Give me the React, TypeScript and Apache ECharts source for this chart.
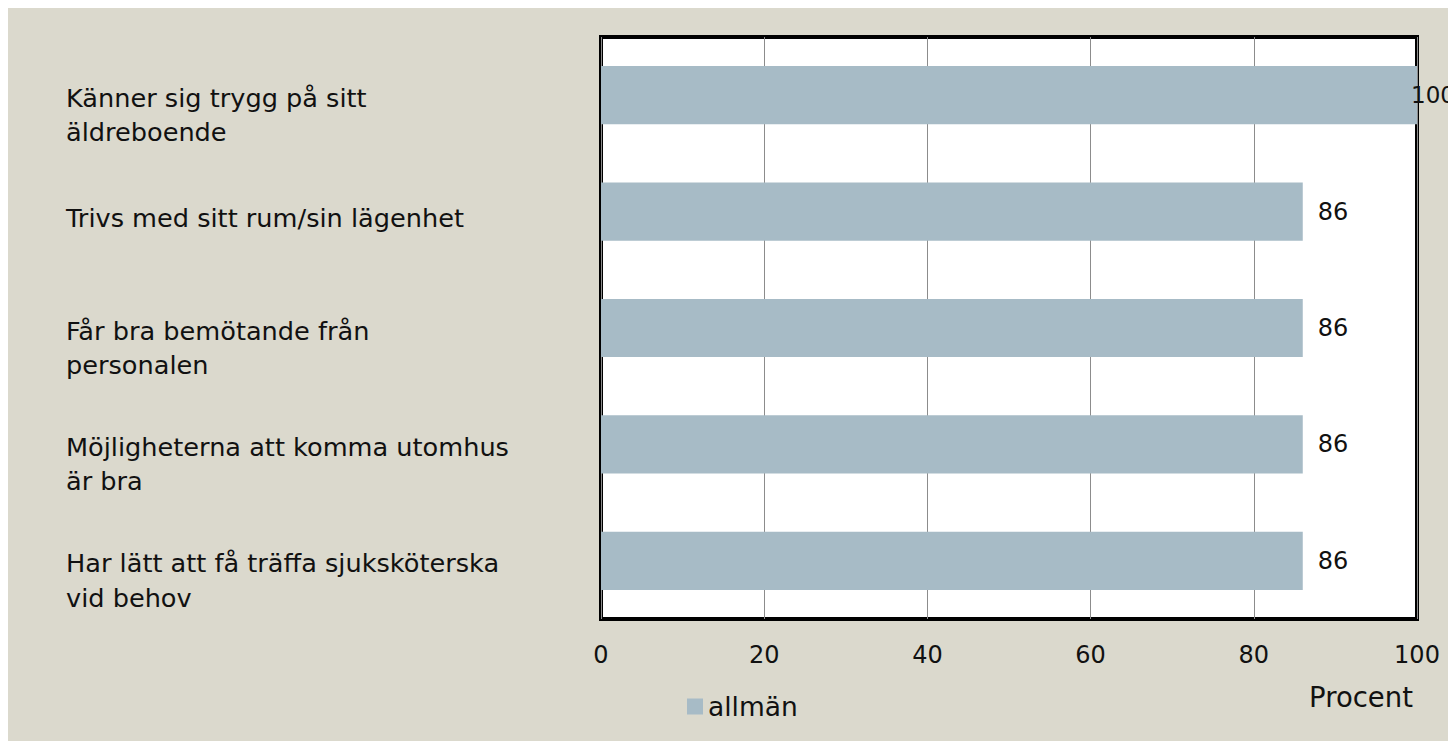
import React, { useEffect, useRef } from "react";
import * as echarts from "echarts";

const categories = [
  "Känner sig trygg på sitt\näldreboende",
  "Trivs med sitt rum/sin lägenhet",
  "Får bra bemötande från\npersonalen",
  "Möjligheterna att komma utomhus\när bra",
  "Har lätt att få träffa sjuksköterska\nvid behov",
];
const seriesName = "allmän";
const values = [100, 86, 86, 86, 86];
const axisName = "Procent";

const FONT = "DejaVu Sans";
const CAT_SIZE = 25.6;

export default function App() {
  const ref = useRef<HTMLDivElement>(null);
  useEffect(() => {
    document.documentElement.style.overflow = "hidden";
    document.body.style.overflow = "hidden";
    const chart = echarts.init(ref.current!, null, { renderer: "svg" });
    chart.setOption({
      animation: false,
      backgroundColor: "#dbd9cd",
      textStyle: { fontFamily: FONT },
      grid: {
        left: 593,
        right: 39,
        top: 29,
        bottom: 122,
        show: true,
        backgroundColor: "#ffffff",
        borderColor: "#000000",
        borderWidth: 4,
      },
      legend: {
        data: [seriesName],
        left: 674,
        top: 680,
        icon: "rect",
        itemWidth: 16,
        itemHeight: 16,
        itemGap: 10,
        textStyle: { fontFamily: FONT, fontSize: 26.5, color: "#111" },
      },
      xAxis: {
        type: "value",
        min: 0,
        max: 100,
        interval: 20,
        name: axisName,
        nameLocation: "end",
        nameGap: -4,
        nameTextStyle: {
          fontFamily: FONT,
          fontSize: 27.5,
          color: "#111",
          align: "right",
          verticalAlign: "top",
          padding: [64, 0, 0, 0],
        },
        axisLine: { show: false },
        axisTick: { show: false },
        axisLabel: { fontFamily: FONT, fontSize: 24, color: "#111", margin: 24 },
        splitLine: { show: true, lineStyle: { color: "#8c8c8c", width: 1 } },
      },
      yAxis: {
        type: "category",
        inverse: true,
        data: categories,
        axisLine: { show: false },
        axisTick: { show: false },
        splitLine: { show: false },
        axisLabel: {
          align: "left",
          verticalAlign: "top",
          margin: 535,
          fontFamily: FONT,
          fontSize: CAT_SIZE,
          color: "#111",
          formatter: (v: string) => {
            const parts = v.split("\n");
            if (parts.length > 1) return `{a|${parts[0]}}\n{b|${parts[1]}}`;
            return `{c|${parts[0]}}`;
          },
          rich: {
            a: { fontFamily: FONT, fontSize: CAT_SIZE, color: "#111", lineHeight: 5 },
            b: { fontFamily: FONT, fontSize: CAT_SIZE, color: "#111", lineHeight: 64 },
            c: { fontFamily: FONT, fontSize: CAT_SIZE, color: "#111", lineHeight: 12 },
          },
        },
      },
      series: [
        {
          name: seriesName,
          type: "bar",
          barCategoryGap: "50%",
          itemStyle: { color: "#a7bbc6" },
          label: {
            show: true,
            position: "right",
            distance: 15,
            fontFamily: FONT,
            fontSize: 24,
            color: "#111",
          },
          data: values.map((v) =>
            v >= 100 ? { value: v, label: { distance: -6, fontSize: 23 } } : v
          ),
        },
      ],
    });
    return () => chart.dispose();
  }, []);
  return <div ref={ref} style={{ width: 1448, height: 733 }} />;
}
